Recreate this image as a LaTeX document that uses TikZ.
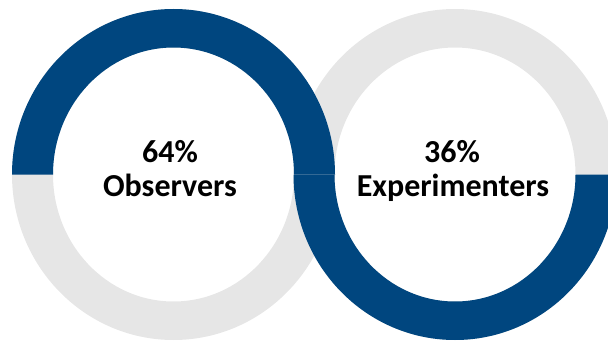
\documentclass[tikz,border=0pt]{standalone}
\usepackage{fontspec}
\setmainfont{Carlito}
\definecolor{ringblue}{RGB}{0,70,127}
\definecolor{ringgray}{RGB}{230,230,230}
\begin{document}
\begin{tikzpicture}[x=1pt,y=1pt,
  lbl/.style={font=\bfseries\fontsize{32}{34}\selectfont, text=black, inner sep=0pt, anchor=base}]
\useasboundingbox (0,0) rectangle (608,341);
\clip (0,0) rectangle (608,341);
\def\rxo{161.5}\def\ryo{165.5}\def\rxi{120.5}\def\ryi{127}
\coordinate (cL) at (173.5,166.5);
\coordinate (cR) at (455,166.5);
% gray full rings
\fill[ringgray,even odd rule] (cL) ellipse [x radius=\rxo, y radius=\ryo] (cL) ellipse [x radius=\rxi, y radius=\ryi];
\fill[ringgray,even odd rule] (cR) ellipse [x radius=\rxo, y radius=\ryo] (cR) ellipse [x radius=\rxi, y radius=\ryi];
% blue halves
\fill[ringblue] (12,166.5) arc[start angle=180, end angle=0, x radius=\rxo, y radius=\ryo]
  -- (294,166.5) arc[start angle=0, end angle=180, x radius=\rxi, y radius=\ryi] -- cycle;
\fill[ringblue] (616.5,166.5) arc[start angle=0, end angle=-180, x radius=\rxo, y radius=\ryo]
  -- (334.5,166.5) arc[start angle=180, end angle=360, x radius=\rxi, y radius=\ryi] -- cycle;
% labels
\node[lbl] (obsPct) at (170,179) {64\%};
\node[lbl] (obsLbl) at (170,145) {Observers};
\node[lbl] (expPct) at (452,179) {36\%};
\node[lbl] (expLbl) at (453,145) {Experimenters};
\end{tikzpicture}
\end{document}
